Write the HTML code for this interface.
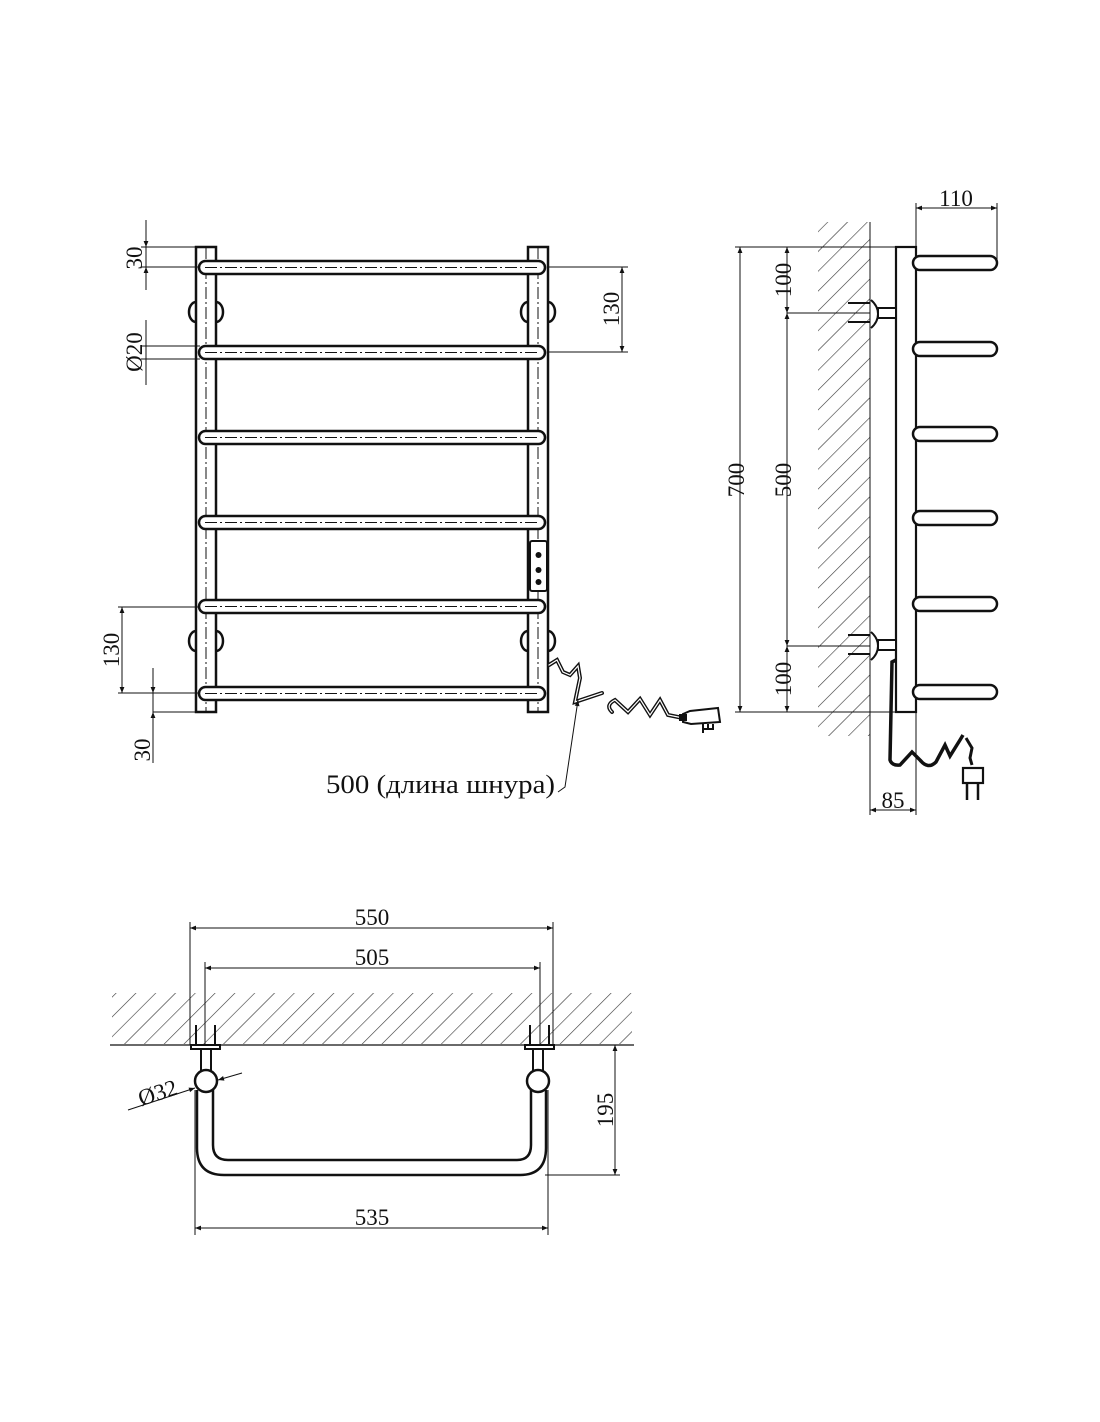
<!DOCTYPE html>
<html><head><meta charset="utf-8"><style>
html,body{margin:0;padding:0;background:#fff;}
svg{display:block;}
text{font-family:"Liberation Serif","DejaVu Serif",serif;fill:#111;}
</style></head><body>
<svg width="1100" height="1422" viewBox="0 0 1100 1422" xmlns="http://www.w3.org/2000/svg">
<defs>
<pattern id="h" patternUnits="userSpaceOnUse" width="14" height="14" patternTransform="rotate(45)">
<line x1="0" y1="0" x2="0" y2="14" stroke="#333" stroke-width="1.2"/>
</pattern>
<marker id="a" viewBox="0 0 10 10" refX="10" refY="5" markerWidth="10" markerHeight="6" orient="auto-start-reverse" markerUnits="userSpaceOnUse">
<path d="M0,1 L10,5 L0,9 z" fill="#111"/>
</marker>
</defs>

<!-- ================= FRONT VIEW ================= -->
<g stroke="#111" fill="none">
<g stroke-width="2.5">
<path d="M196,302 A7,10 0 0 0 196,322"/><path d="M216,302 A7,10 0 0 1 216,322"/>
<path d="M528,302 A7,10 0 0 0 528,322"/><path d="M548,302 A7,10 0 0 1 548,322"/>
<path d="M196,631 A7,10 0 0 0 196,651"/><path d="M216,631 A7,10 0 0 1 216,651"/>
<path d="M528,631 A7,10 0 0 0 528,651"/><path d="M548,631 A7,10 0 0 1 548,651"/>
</g>
<rect x="196" y="247" width="20" height="465" fill="#fff" stroke-width="2.5"/>
<rect x="528" y="247" width="20" height="465" fill="#fff" stroke-width="2.5"/>
<line x1="206" y1="247" x2="206" y2="712" stroke-width="1" stroke-dasharray="12,3,2,3"/>
<line x1="538" y1="247" x2="538" y2="712" stroke-width="1" stroke-dasharray="12,3,2,3"/>
<g stroke-width="2.5" fill="#fff">
<rect x="199" y="261" width="346" height="13" rx="6.5"/>
<rect x="199" y="346" width="346" height="13" rx="6.5"/>
<rect x="199" y="431" width="346" height="13" rx="6.5"/>
<rect x="199" y="516" width="346" height="13" rx="6.5"/>
<rect x="199" y="600" width="346" height="13" rx="6.5"/>
<rect x="199" y="687" width="346" height="13" rx="6.5"/>
</g>
<g stroke-width="1" stroke-dasharray="12,3,2,3">
<line x1="205" y1="267.5" x2="540" y2="267.5"/><line x1="205" y1="352.5" x2="540" y2="352.5"/>
<line x1="205" y1="437.5" x2="540" y2="437.5"/><line x1="205" y1="522.5" x2="540" y2="522.5"/>
<line x1="205" y1="606.5" x2="540" y2="606.5"/><line x1="205" y1="693.5" x2="540" y2="693.5"/>
</g>
<rect x="530" y="541" width="17" height="50" rx="2" fill="#fff" stroke-width="2"/>
</g>
<circle cx="538.5" cy="555" r="3" fill="#111"/><circle cx="538.5" cy="570" r="3" fill="#111"/><circle cx="538.5" cy="582" r="3" fill="#111"/>
<g fill="none" stroke="#111" stroke-linecap="round">
<path d="M549,665 L557,660 L563,672 L570,675 L578,666 L580,678 L575,702 L602,693" stroke-width="4"/>
<path d="M549,665 L557,660 L563,672 L570,675 L578,666 L580,678 L575,702 L602,693" stroke="#fff" stroke-width="1.2"/>
<path d="M612,712 Q605,705 615,700 L628,712 L640,699 L650,715 L660,700 L668,715 L683,718" stroke-width="4"/>
<path d="M612,712 Q605,705 615,700 L628,712 L640,699 L650,715 L660,700 L668,715 L683,718" stroke="#fff" stroke-width="1.2"/>
</g>
<path d="M683,714 L690,711 L718,708 L720,722 L691,724 L683,722 z" fill="#fff" stroke="#111" stroke-width="2"/>
<rect x="679" y="714" width="8" height="7" fill="#111"/>
<path d="M703,724 L703,733 M708,724 L708,730 M713,724 L713,730 M703,729 L714,729" stroke="#111" stroke-width="2"/>
<path d="M578,700 L565,787 L558,792" fill="none" stroke="#111" stroke-width="1" marker-start="url(#a)"/>
<text x="326" y="793" font-size="26" textLength="229" lengthAdjust="spacingAndGlyphs">500 (длина шнура)</text>

<g stroke="#111" stroke-width="1" fill="none">
<line x1="146" y1="220" x2="146" y2="290"/>
<line x1="141" y1="247" x2="196" y2="247"/><line x1="141" y1="267" x2="200" y2="267"/>
<line x1="146" y1="230" x2="146" y2="247" marker-end="url(#a)"/>
<line x1="146" y1="285" x2="146" y2="267" marker-end="url(#a)"/>
<line x1="146" y1="320" x2="146" y2="385"/>
<line x1="141" y1="346" x2="200" y2="346"/><line x1="141" y1="359" x2="200" y2="359"/>
<line x1="548" y1="267" x2="628" y2="267"/><line x1="548" y1="352" x2="628" y2="352"/>
<line x1="622" y1="267" x2="622" y2="352" marker-start="url(#a)" marker-end="url(#a)"/>
<line x1="118" y1="607" x2="200" y2="607"/><line x1="118" y1="693" x2="200" y2="693"/>
<line x1="122" y1="607" x2="122" y2="693" marker-start="url(#a)" marker-end="url(#a)"/>
<line x1="153" y1="668" x2="153" y2="763"/>
<line x1="153" y1="712" x2="196" y2="712"/>
<line x1="153" y1="675" x2="153" y2="693" marker-end="url(#a)"/>
<line x1="153" y1="730" x2="153" y2="712" marker-end="url(#a)"/>
</g>
<text transform="translate(142,258) rotate(-90)" font-size="23" text-anchor="middle">30</text>
<text transform="translate(142,352) rotate(-90)" font-size="23" text-anchor="middle">Ø20</text>
<text transform="translate(619,309) rotate(-90)" font-size="23" text-anchor="middle">130</text>
<text transform="translate(119,650) rotate(-90)" font-size="23" text-anchor="middle">130</text>
<text transform="translate(150,750) rotate(-90)" font-size="23" text-anchor="middle">30</text>

<!-- ================= SIDE VIEW ================= -->
<rect x="818" y="222" width="52" height="514" fill="url(#h)"/>
<g stroke="#111" fill="none">
<line x1="870" y1="222" x2="870" y2="815" stroke-width="1"/>
<line x1="916" y1="712" x2="916" y2="815" stroke-width="1"/>
<rect x="896" y="247" width="20" height="465" fill="#fff" stroke-width="2.2"/>
<g stroke-width="2.5" fill="#fff">
<rect x="913" y="256" width="84" height="14" rx="7"/>
<rect x="913" y="342" width="84" height="14" rx="7"/>
<rect x="913" y="427" width="84" height="14" rx="7"/>
<rect x="913" y="511" width="84" height="14" rx="7"/>
<rect x="913" y="597" width="84" height="14" rx="7"/>
<rect x="913" y="685" width="84" height="14" rx="7"/>
</g>
<g stroke-width="2">
<path d="M871,300 Q878,306 878,314 Q878,322 871,328" fill="#fff"/>
<rect x="878" y="308" width="18" height="10" fill="#fff"/>
<line x1="848" y1="303" x2="870" y2="303"/><line x1="848" y1="322" x2="870" y2="322"/>
<path d="M871,632 Q878,638 878,646 Q878,654 871,660" fill="#fff"/>
<rect x="878" y="640" width="18" height="10" fill="#fff"/>
<line x1="848" y1="635" x2="870" y2="635"/><line x1="848" y1="654" x2="870" y2="654"/>
</g>
<path d="M896,660 L892,662 L890,760 Q892,766 900,765 L912,752 L920,760 Q928,770 936,762 L945,745 L950,756 L960,740 L963,735" stroke-width="3.5"/>
<path d="M966,738 L972,748 L970,758 L972,765" stroke-width="3"/>
<rect x="963" y="768" width="20" height="15" fill="#fff" stroke-width="2.2"/>
<path d="M967,783 L967,800 M978,783 L978,800" stroke-width="2.5"/>
<g stroke-width="1">
<line x1="735" y1="247" x2="896" y2="247"/>
<line x1="735" y1="712" x2="896" y2="712"/>
<line x1="740" y1="247" x2="740" y2="712" marker-start="url(#a)" marker-end="url(#a)"/>
<line x1="787" y1="313" x2="870" y2="313"/>
<line x1="787" y1="646" x2="870" y2="646"/>
<line x1="787" y1="247" x2="787" y2="313" marker-start="url(#a)" marker-end="url(#a)"/>
<line x1="787" y1="313" x2="787" y2="646" marker-start="url(#a)" marker-end="url(#a)"/>
<line x1="787" y1="646" x2="787" y2="712" marker-start="url(#a)" marker-end="url(#a)"/>
<line x1="916" y1="203" x2="916" y2="247"/>
<line x1="997" y1="203" x2="997" y2="265"/>
<line x1="916" y1="208" x2="997" y2="208" marker-start="url(#a)" marker-end="url(#a)"/>
<line x1="870" y1="810" x2="916" y2="810" marker-start="url(#a)" marker-end="url(#a)"/>
</g>
</g>
<text x="956" y="206" font-size="23" text-anchor="middle">110</text>
<text transform="translate(744,480) rotate(-90)" font-size="23" text-anchor="middle">700</text>
<text transform="translate(791,280) rotate(-90)" font-size="23" text-anchor="middle">100</text>
<text transform="translate(791,480) rotate(-90)" font-size="23" text-anchor="middle">500</text>
<text transform="translate(791,679) rotate(-90)" font-size="23" text-anchor="middle">100</text>
<text x="893" y="808" font-size="23" text-anchor="middle">85</text>

<!-- ================= TOP VIEW ================= -->
<rect x="112" y="993" width="520" height="51" fill="url(#h)"/>
<g stroke="#111" fill="none">
<line x1="110" y1="1045" x2="634" y2="1045" stroke-width="1.3"/>
<g stroke-width="1">
<line x1="190" y1="922" x2="190" y2="1045"/>
<line x1="553" y1="922" x2="553" y2="1045"/>
<line x1="190" y1="928" x2="553" y2="928" marker-start="url(#a)" marker-end="url(#a)"/>
<line x1="205" y1="962" x2="205" y2="1045"/>
<line x1="540" y1="962" x2="540" y2="1045"/>
<line x1="205" y1="968" x2="540" y2="968" marker-start="url(#a)" marker-end="url(#a)"/>
<line x1="540" y1="1045" x2="620" y2="1045"/>
<line x1="545" y1="1175" x2="620" y2="1175"/>
<line x1="615" y1="1045" x2="615" y2="1175" marker-start="url(#a)" marker-end="url(#a)"/>
<line x1="195" y1="1090" x2="195" y2="1235"/>
<line x1="548" y1="1090" x2="548" y2="1235"/>
<line x1="195" y1="1228" x2="548" y2="1228" marker-start="url(#a)" marker-end="url(#a)"/>
<line x1="128" y1="1110" x2="195" y2="1088" marker-end="url(#a)"/>
<line x1="242" y1="1073" x2="218" y2="1080" marker-end="url(#a)"/>
</g>
<g stroke-width="2">
<line x1="196" y1="1025" x2="196" y2="1045"/><line x1="215" y1="1025" x2="215" y2="1045"/>
<line x1="530" y1="1025" x2="530" y2="1045"/><line x1="549" y1="1025" x2="549" y2="1045"/>
<rect x="191" y="1045" width="29" height="4" fill="#fff"/>
<rect x="525" y="1045" width="29" height="4" fill="#fff"/>
<rect x="201" y="1049" width="10" height="22" fill="#fff"/>
<rect x="533" y="1049" width="10" height="22" fill="#fff"/>
</g>
<path d="M197,1090 L197,1148 Q197,1175 224,1175 L520,1175 Q546,1175 546,1148 L546,1090" stroke-width="2.5"/>
<path d="M213,1090 L213,1145 Q213,1160 228,1160 L517,1160 Q531,1160 531,1145 L531,1090" stroke-width="2.5"/>
<circle cx="206" cy="1081" r="11" fill="#fff" stroke-width="2.5"/>
<circle cx="538" cy="1081" r="11" fill="#fff" stroke-width="2.5"/>
</g>
<text x="372" y="925" font-size="23" text-anchor="middle">550</text>
<text x="372" y="965" font-size="23" text-anchor="middle">505</text>
<text transform="translate(160,1100) rotate(-18)" font-size="23" text-anchor="middle">Ø32</text>
<text transform="translate(613,1110) rotate(-90)" font-size="23" text-anchor="middle">195</text>
<text x="372" y="1225" font-size="23" text-anchor="middle">535</text>
</svg>
</body></html>
